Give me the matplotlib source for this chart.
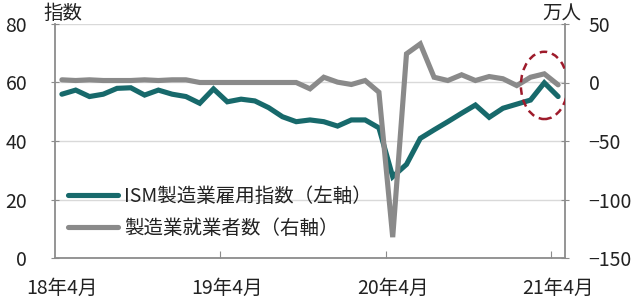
import matplotlib
matplotlib.use("Agg")
import matplotlib.pyplot as plt
from matplotlib.patches import Ellipse
import numpy as np

plt.rcParams['font.family'] = ['Noto Sans CJK JP', 'DejaVu Sans']

# 2018-04 .. 2021-04 monthly
months = [f"{18 + (3 + i) // 12}年{(3 + i) % 12 + 1}月" for i in range(37)]
ism_employment = [56.0, 57.4, 55.2, 56.0, 58.0, 58.2, 55.7, 57.4, 56.0, 55.2,
                  52.9, 57.8, 53.4, 54.3, 53.7, 51.4, 48.3, 46.6, 47.2, 46.6,
                  45.1, 47.2, 47.2, 44.5, 27.8, 32.0, 40.9, 43.8, 46.6, 49.5,
                  52.3, 48.1, 51.2, 52.6, 54.0, 59.9, 55.2]
mfg_jobs_change = [2.3, 1.7, 2.3, 1.7, 1.7, 1.7, 2.3, 1.7, 2.3, 2.3,
                   0.0, 0.0, 0.0, 0.0, 0.0, 0.0, 0.0, 0.0, -5.4, 4.5,
                   0.3, -1.7, 1.7, -8.3, -132.2, 24.5, 33.0, 4.5, 1.7, 6.6,
                   1.7, 5.1, 3.2, -2.6, 4.5, 7.4, -2.0]
label_idx = [0, 12, 24, 36]
left_ticks = [0, 20, 40, 60, 80]
right_ticks = [-150, -100, -50, 0, 50]
series_names = ["ISM製造業雇用指数（左軸）", "製造業就業者数（右軸）"]

teal = "#17696B"
gray = "#8A8A8A"
axis_col = "#8C8C8C"
text_col = "#222222"
fs = 14

fig = plt.figure(figsize=(6.4, 3.01), dpi=100)
ax = fig.add_axes([55 / 640, 43 / 301, 510 / 640, 234 / 301])
ax2 = ax.twinx()

x = np.arange(len(months))
l1, = ax.plot(x, ism_employment, color=teal, lw=3.7, solid_joinstyle='miter',
              solid_capstyle='round')
l2, = ax2.plot(x, mfg_jobs_change, color=gray, lw=3.7, solid_joinstyle='miter',
               solid_capstyle='round')

ax.set_xlim(-0.5, len(months) - 0.5)
ax.set_ylim(0, 80)
ax2.set_ylim(-150, 50)
ax.set_yticks(left_ticks)
ax2.set_yticks(right_ticks)
ax.set_yticklabels([str(v) for v in left_ticks])
ax2.set_yticklabels([str(v).replace('-', '\u2212') for v in right_ticks])

ax.grid(axis='y', color='#D9D9D9', lw=1.0)
ax.set_axisbelow(True)

# x ticks: marks at year boundaries, labels at category centers
ax.set_xticks([i - 0.5 for i in label_idx[1:]])
ax.set_xticklabels([])
ax.set_xticks(label_idx, minor=True)
ax.set_xticklabels([months[i] for i in label_idx], minor=True)
ax.tick_params(axis='x', which='major', direction='in', length=5, color=axis_col)
ax.tick_params(axis='x', which='minor', length=0, pad=14, labelsize=fs,
               labelcolor=text_col)
ax.tick_params(axis='y', direction='inout', length=6, color=axis_col, pad=17,
               labelsize=fs, labelcolor=text_col)
ax2.tick_params(axis='y', direction='inout', length=6, color=axis_col, pad=14,
                labelsize=fs, labelcolor=text_col)

for a in (ax, ax2):
    a.spines['top'].set_visible(False)
    for s in ('left', 'right', 'bottom'):
        a.spines[s].set_color(axis_col)
        a.spines[s].set_linewidth(1.3)
ax.spines['right'].set_visible(False)
ax2.spines['left'].set_visible(False)
ax2.spines['bottom'].set_visible(False)

fig.text(63 / 640, 1 - 13 / 301, "指数", ha='center', va='center',
         fontsize=14, color=text_col)
fig.text(562 / 640, 1 - 14 / 301, "万人", ha='center', va='center',
         fontsize=14, color=text_col)

leg = ax2.legend([l1, l2], series_names, loc='upper left',
                 bbox_to_anchor=(13 / 510, (258 - 186) / 234),
                 frameon=False, fontsize=14, handlelength=2.55,
                 handletextpad=0.35, labelspacing=0.55, borderpad=0,
                 borderaxespad=0)
for t in leg.get_texts():
    t.set_color(text_col)

# highlight ellipse around the latest points (drawn on top)
last = len(months) - 2
ell = Ellipse((last, 59.0), width=3.4, height=23.0, fill=False,
              edgecolor='#9E1B2B', lw=1.8, ls=(0, (3, 2)), zorder=5,
              transform=ax.transData)
ax2.add_artist(ell)

fig.savefig("out.png", dpi=100)
